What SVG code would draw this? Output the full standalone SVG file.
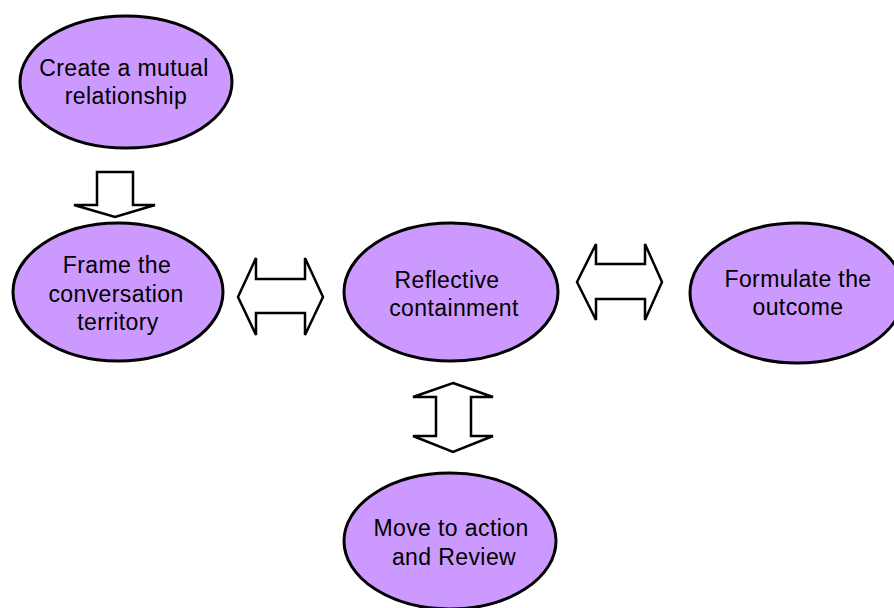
<svg xmlns="http://www.w3.org/2000/svg" width="894" height="608" viewBox="0 0 894 608">
  <style>
    .node ellipse { fill: #CC99FF; stroke: #000; stroke-width: 3; }
    .node text { font-family: "Liberation Sans", Arial, sans-serif; font-size: 23px; letter-spacing: 0.4px; fill: #000; text-anchor: middle; }
    .arrow { fill: #fff; stroke: #000; stroke-width: 2.5; stroke-linejoin: miter; }
  </style>
  <rect width="894" height="608" fill="#fff"/>

  <g id="connectors">
    <!-- down arrow: relationship -> frame -->
    <polygon class="arrow" points="97,172 133,172 133,205 155,205 115,217 74,205 97,205"/>
    <!-- frame <-> reflective -->
    <polygon class="arrow" points="238,297 256,258 256,279 305,279 305,258 323,297 305,335 305,313 256,313 256,335"/>
    <!-- reflective <-> outcome -->
    <polygon class="arrow" points="577,282 596,244 596,264 645,264 645,244 662,282 645,320 645,299 596,299 596,320"/>
    <!-- reflective <-> action -->
    <polygon class="arrow" points="453,383 493,397 471,397 471,436 493,436 453,452 413,436 436,436 436,397 413,397"/>
  </g>

  <g id="node-relationship" class="node">
    <ellipse cx="126" cy="82" rx="106" ry="66"/>
    <text x="124" y="76">Create a mutual</text>
    <text x="126" y="104">relationship</text>
  </g>

  <g id="node-frame" class="node">
    <ellipse cx="118" cy="292" rx="105" ry="69"/>
    <text x="117" y="273">Frame the</text>
    <text x="116" y="302">conversation</text>
    <text x="118" y="330">territory</text>
  </g>

  <g id="node-reflective" class="node">
    <ellipse cx="451" cy="292" rx="107" ry="69"/>
    <text x="447" y="288">Reflective</text>
    <text x="454" y="316">containment</text>
  </g>

  <g id="node-outcome" class="node">
    <ellipse cx="797" cy="293" rx="107" ry="70"/>
    <text x="798" y="287">Formulate the</text>
    <text x="798" y="315">outcome</text>
  </g>

  <g id="node-action" class="node">
    <ellipse cx="450" cy="541" rx="106" ry="68"/>
    <text x="451" y="536">Move to action</text>
    <text x="454" y="565">and Review</text>
  </g>
</svg>
